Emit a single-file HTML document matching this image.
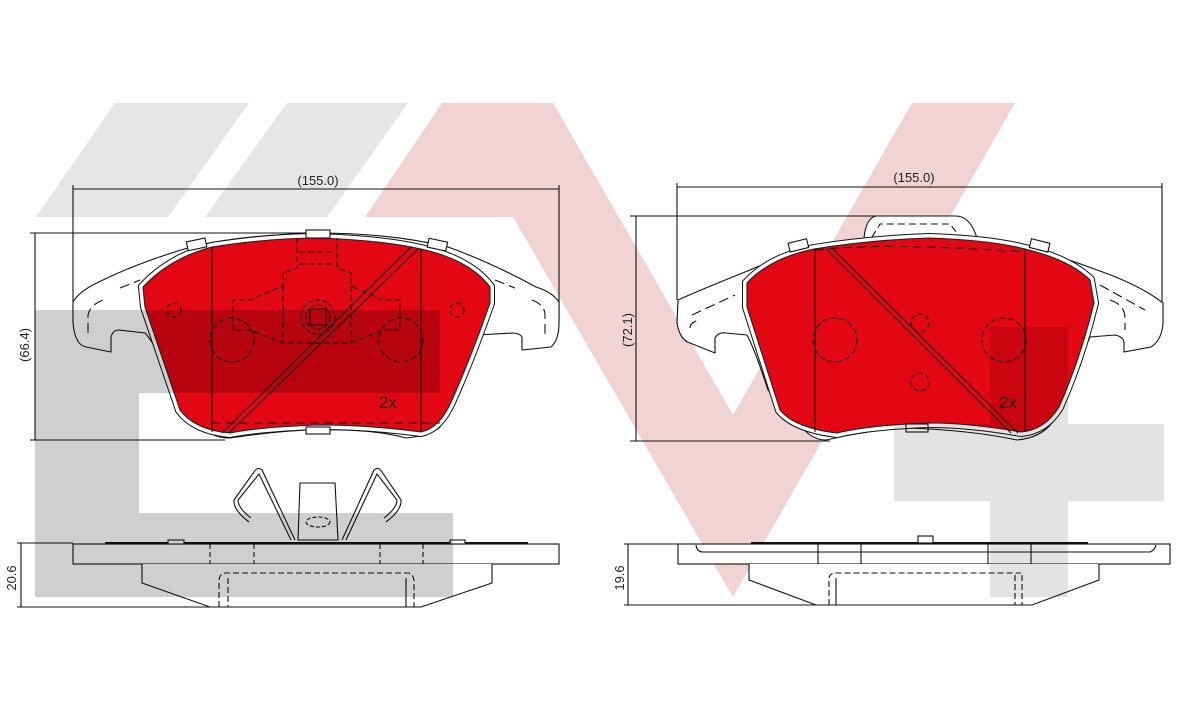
<!DOCTYPE html>
<html><head><meta charset="utf-8"><style>
html,body{margin:0;padding:0;background:#fff;}
svg{display:block;}
text{font-family:"Liberation Sans",sans-serif;fill:#222;}
</style></head><body>
<svg width="1200" height="701" viewBox="0 0 1200 701" xmlns="http://www.w3.org/2000/svg">
<defs>
<path id="redL" d="M143,287 Q170,258 212,247 Q270,238 318,238 Q380,240 421,249 Q470,260 490,287 L490,303 Q470,360 452,400 Q440,428 421,432 Q370,425 318,425 Q260,427 230,433 Q195,430 180,410 L145,307 Z"/>
<path id="redR" d="M747,283 Q770,258 814,249 Q870,240 929,238 Q990,240 1025,249 Q1070,260 1090,280 L1094,303 Q1080,360 1059,407 Q1045,430 1021,432 Q970,423 929,423 Q870,425 837,433 Q795,428 780,410 L747,307 Z"/>
</defs>
<polygon points="115,103 249,103 168,217 36,217" fill="#e6e6e6"/>
<polygon points="287,103 408,103 327,217 205,217" fill="#e6e6e6"/>
<polygon points="442,103 553,103 733,415 912,103 1015,103 733,597 513,217 365,217" fill="#f1d3d3"/>

<g stroke="#111" stroke-width="1.1" fill="none">
<line x1="73" y1="189" x2="559" y2="189"/>
<line x1="73" y1="185" x2="73" y2="302"/>
<line x1="559" y1="185" x2="559" y2="320"/>
<line x1="30" y1="233" x2="320" y2="233"/>
<line x1="30" y1="440" x2="225" y2="440"/>
<line x1="35" y1="233" x2="35" y2="440"/>
<path d="M73,302 L73,323 Q75,345 86,347 L111,352 L111,337 Q113,330 119,330 L145,333 Q150,338 161,357 L199,423 Q210,438 230,438 Q270,432 306,430 Q370,428 406,438 Q430,436 440,427 L478,335 L513,333 Q522,334 522,338 L522,350 L551,347 Q559,340 559,323 L559,302 Q552,292 536,287 Q490,262 448,247 Q390,233 318,233 Q240,235 191,247 Q140,262 103,280 Q80,290 73,302 Z" fill="#fff"/>
<path d="M103,300 Q90,305 88,315 L88,335 M532,300 Q545,305 545,315 L545,335 M120,288 L140,280 M495,280 L515,288" stroke-dasharray="10,5"/>
<use href="#redL" stroke="#111" stroke-width="10"/>
<use href="#redL" stroke="#fff" stroke-width="8"/>
<use href="#redL" fill="#e30613" stroke="#222"/>
<line x1="212" y1="247" x2="212" y2="432"/>
<line x1="421" y1="249" x2="421" y2="432"/>
<line x1="411" y1="247" x2="222" y2="433"/>
<line x1="418" y1="249" x2="229" y2="433"/>
<line x1="212" y1="423" x2="440" y2="423" stroke-dasharray="9,5"/>
<rect x="306" y="230" width="24" height="8" fill="#fff"/>
<rect x="306" y="427" width="24" height="7" fill="#fff"/>
<rect x="187" y="240" width="19" height="9" fill="#fff" transform="rotate(-12 196 244)"/>
<rect x="428" y="240" width="19" height="9" fill="#fff" transform="rotate(12 437 244)"/>
<path d="M297,238 L297,268 L283,273 L283,286 L250,300 L233,300 L233,330 L250,330 L283,343 L351,343 L383,330 L400,330 L400,300 L383,300 L351,286 L351,273 L337,268 L337,238" stroke-dasharray="6,3"/>
<line x1="299" y1="252" x2="335" y2="252" stroke-dasharray="6,3"/>
<line x1="299" y1="264" x2="335" y2="264" stroke-dasharray="6,3"/>
<line x1="283" y1="286" x2="283" y2="343" stroke-dasharray="6,3"/>
<line x1="351" y1="286" x2="351" y2="343" stroke-dasharray="6,3"/>
<circle cx="318" cy="317" r="17" stroke-dasharray="5,2"/>
<circle cx="318" cy="317" r="12" stroke-dasharray="5,2"/>
<rect x="310" y="309" width="16" height="16"/>
<circle cx="174" cy="310" r="7" stroke-dasharray="5,3"/>
<circle cx="457" cy="310" r="7" stroke-dasharray="5,3"/>
<circle cx="232" cy="340" r="22" stroke-dasharray="6,3"/>
<circle cx="401" cy="340" r="22" stroke-dasharray="6,3"/>
<path d="M298,540 L300,483 L335,483 L338,540 Z" fill="#fff"/>
<ellipse cx="318" cy="522" rx="12" ry="5" stroke-dasharray="4,2"/>
<path d="M295,540 L262,470 Q258,466 254,472 L234,500 Q233,510 249,522" />
<path d="M291,540 L259,474 L238,500 Q238,508 251,518"/>
<path d="M342,540 L374,470 Q378,466 382,472 L401,500 Q402,510 386,522"/>
<path d="M346,540 L377,474 L397,500 Q397,508 384,518"/>
<line x1="105" y1="543" x2="528" y2="543" stroke-width="2"/>
<rect x="73" y="544" width="486" height="20" fill="#fff"/>
<rect x="168" y="540" width="16" height="4" fill="#fff"/>
<rect x="450" y="540" width="15" height="4" fill="#fff"/>
<line x1="210" y1="544" x2="210" y2="564" stroke-dasharray="5,3"/>
<line x1="254" y1="544" x2="254" y2="564" stroke-dasharray="5,3"/>
<line x1="380" y1="544" x2="380" y2="564" stroke-dasharray="5,3"/>
<line x1="423" y1="544" x2="423" y2="564" stroke-dasharray="5,3"/>
<path d="M142,564 L142,583 L210,607 L421,607 L492,583 L492,564" fill="#fff"/>
<path d="M219,607 L219,580 Q220,573 226,573 L409,573 Q414,575 414,582 L414,607" stroke-dasharray="6,3"/>
<line x1="228" y1="578" x2="228" y2="607" stroke-dasharray="6,3"/>
<line x1="406" y1="578" x2="406" y2="607"/>
<line x1="17" y1="543" x2="73" y2="543"/>
<line x1="17" y1="607" x2="210" y2="607"/>
<line x1="21" y1="543" x2="21" y2="607"/>

<line x1="677" y1="187" x2="1162" y2="187"/>
<line x1="677" y1="183" x2="677" y2="300"/>
<line x1="1162" y1="183" x2="1162" y2="303"/>
<line x1="630" y1="216" x2="940" y2="216"/>
<line x1="630" y1="441" x2="830" y2="441"/>
<line x1="636" y1="216" x2="636" y2="441"/>
<path d="M678,300 L677,323 Q680,340 690,343 L715,353 L715,338 Q718,332 726,333 L747,335 Q755,350 768,390 L799,423 Q810,440 826,440 Q870,430 906,428 Q970,430 1017,440 Q1040,438 1052,423 L1090,337 L1115,335 Q1124,337 1124,343 L1124,352 L1151,347 Q1162,340 1163,323 L1163,303 Q1140,285 1097,270 Q1040,248 983,240 L977,238 Q970,216 956,216 L876,216 Q866,218 864,238 Q800,248 750,270 Q700,290 678,300 Z" fill="#fff"/>
<path d="M872,237 L880,224 L950,224 L960,237" stroke-dasharray="7,4"/>
<path d="M690,328 Q690,322 700,320 M692,315 L735,295 M1110,300 Q1125,305 1125,318 L1125,330 M1100,285 L1145,310" stroke-dasharray="10,5"/>
<use href="#redR" stroke="#111" stroke-width="10"/>
<use href="#redR" stroke="#fff" stroke-width="8"/>
<use href="#redR" fill="#e30613" stroke="#222"/>
<path d="M815,250 Q880,242 1025,252" stroke-dasharray="9,5"/>
<line x1="815" y1="249" x2="815" y2="432"/>
<line x1="1025" y1="249" x2="1025" y2="432"/>
<line x1="826" y1="249" x2="1011" y2="433"/>
<line x1="833" y1="249" x2="1018" y2="433"/>
<rect x="906" y="424" width="22" height="8" fill="none"/>
<rect x="789" y="241" width="19" height="9" fill="#fff" transform="rotate(-14 798 246)"/>
<rect x="1030" y="241" width="19" height="9" fill="#fff" transform="rotate(14 1040 246)"/>
<circle cx="835" cy="340" r="22" stroke-dasharray="6,3"/>
<circle cx="1004" cy="340" r="22" stroke-dasharray="6,3"/>
<circle cx="920" cy="323" r="9" stroke-dasharray="5,3"/>
<circle cx="920" cy="382" r="9" stroke-dasharray="5,3"/>
<line x1="751" y1="543" x2="1088" y2="543" stroke-width="2"/>
<rect x="918" y="536" width="15" height="7" fill="#fff"/>
<rect x="678" y="544" width="492" height="20" fill="#fff"/>
<path d="M696,545 Q697,552 703,552 L1150,552 Q1155,550 1156,545"/>
<line x1="818" y1="544" x2="818" y2="564"/>
<line x1="861" y1="544" x2="861" y2="564"/>
<line x1="988" y1="544" x2="988" y2="564"/>
<line x1="1031" y1="544" x2="1031" y2="564"/>
<path d="M749,564 L749,580 L816,605 L1032,605 L1099,580 L1099,564" fill="#fff"/>
<path d="M829,605 L829,578 Q830,573 836,573 L1021,573" stroke-dasharray="6,3"/>
<line x1="836" y1="578" x2="836" y2="605"/>
<line x1="1015" y1="575" x2="1015" y2="605" stroke-dasharray="6,3"/>
<line x1="1022" y1="575" x2="1022" y2="605" stroke-dasharray="6,3"/>
<line x1="624" y1="544" x2="678" y2="544"/>
<line x1="624" y1="605" x2="816" y2="605"/>
<line x1="628" y1="544" x2="628" y2="605"/>
</g>

<text x="318" y="185" font-size="13" text-anchor="middle">(155.0)</text>
<text x="914" y="182" font-size="13" text-anchor="middle">(155.0)</text>
<text x="388" y="408" font-size="17" text-anchor="middle">2x</text>
<text x="1008" y="408" font-size="17" text-anchor="middle">2x</text>
<text transform="translate(29,345) rotate(-90)" font-size="13" text-anchor="middle">(66.4)</text>
<text transform="translate(632,330) rotate(-90)" font-size="13" text-anchor="middle">(72.1)</text>
<text transform="translate(16,578) rotate(-90)" font-size="13" text-anchor="middle">20.6</text>
<text transform="translate(624,578) rotate(-90)" font-size="13" text-anchor="middle">19.6</text>

<path d="M35,310 L440,310 L440,393 L139,393 L139,513 L453,513 L453,597 L35,597 Z" fill="rgba(0,0,0,0.19)"/>
<path d="M990,327 L1068,327 L1068,424 L1164,424 L1164,501 L1068,501 L1068,597 L990,597 L990,501 L894,501 L894,424 L990,424 Z" fill="rgba(0,0,0,0.11)"/>
</svg>
</body></html>
